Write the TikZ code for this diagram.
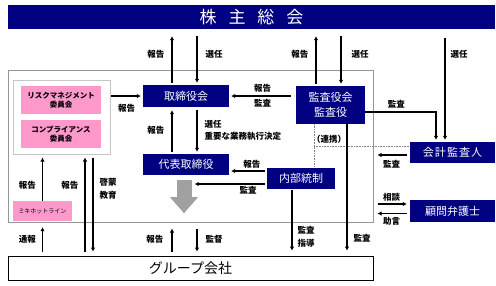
\documentclass[tikz,border=0pt]{standalone}
\usepackage{fontspec}
\setmainfont{Noto Sans CJK JP}
\usetikzlibrary{arrows.meta,calc}
\definecolor{navyBg}{RGB}{0,0,128}
\definecolor{pinkBg}{RGB}{255,153,204}
\definecolor{frameGray}{RGB}{150,150,150}
\definecolor{flowGray}{RGB}{160,160,160}

\begin{document}
\begin{tikzpicture}[
  x=1pt, y=-1pt,
  navy/.style={fill=navyBg, text=white, inner sep=0pt, font=\fontsize{11}{13}\selectfont},
  pinkbox/.style={fill=pinkBg, inner sep=0pt, align=center, font=\fontsize{7.5}{9.5}\selectfont\bfseries},
  lbl/.style={font=\fontsize{8.5}{12.5}\selectfont\bfseries, inner sep=1pt, align=left},
  arrow/.style={-{Latex[length=4pt,width=4.5pt]}, line width=1.3pt},
  dotline/.style={densely dotted, draw=gray, line width=0.6pt}
]
\useasboundingbox (0,0) rectangle (496,285);

% ------------------------------------------------------------------
% Frames
% ------------------------------------------------------------------
\node[navy, minimum width=487pt, minimum height=24pt, font=\fontsize{17}{19}\selectfont] (banner) at (251.5,17)
  {株\hspace{0.7em}主\hspace{0.7em}総\hspace{0.7em}会};
\node[draw=frameGray, line width=1pt, fill=white, minimum width=365pt, minimum height=152pt] (frame) at (190.5,146) {};
\node[draw=gray!45, line width=1pt, fill=white, minimum width=97pt, minimum height=74pt] (inner) at (61.5,117) {};
\node[draw=black, line width=0.8pt, fill=white, minimum width=365pt, minimum height=24pt, font=\fontsize{14}{16}\selectfont] (group) at (190.5,268) {グループ会社};

% ------------------------------------------------------------------
% Boxes
% ------------------------------------------------------------------
\node[pinkbox, minimum width=80pt, minimum height=28pt] (risk) at (61,100) {リスクマネジメント\\委員会};
\node[pinkbox, minimum width=80pt, minimum height=28pt] (comp) at (61,134) {コンプライアンス\\委員会};
\node[pinkbox, minimum width=59pt, minimum height=20pt, font=\fontsize{6}{7}\selectfont] (hotline) at (42.5,211) {ミキホットライン};

\node[navy, minimum width=86pt, minimum height=22pt] (board) at (186,96) {取締役会};
\node[navy, minimum width=86pt, minimum height=21pt] (ceo) at (186,164.5) {代表取締役};
\node[navy, minimum width=69pt, minimum height=38pt, align=center, font=\fontsize{11}{15}\selectfont] (audit) at (330.5,105) {監査役会\\監査役};
\node[navy, minimum width=68pt, minimum height=21pt] (ictrl) at (301,178) {内部統制};
\node[navy, minimum width=85pt, minimum height=21pt] (acct) at (452.5,152.5) {会\hspace{0.1em}計\hspace{0.1em}監\hspace{0.1em}査\hspace{0.1em}人};
\node[navy, minimum width=85pt, minimum height=22pt] (lawyer) at (452.5,211) {顧問弁護士};

% gray flow arrow
\node[fill=flowGray, inner sep=0pt, minimum width=15pt, minimum height=17pt] (shaft) at (184,188.5) {};
\fill[flowGray] ([xshift=-14pt]shaft.south) -- ([xshift=14pt]shaft.south) -- ([yshift=-16pt]shaft.south) -- cycle;

% ------------------------------------------------------------------
% Shareholders
% ------------------------------------------------------------------
\draw[arrow, shorten <=2pt, shorten >=7pt] ([xshift=-14pt]board.north) -- ([xshift=-14pt]board.north |- banner.south) node[lbl, pos=0.55, left=6pt] {報告};
\draw[arrow, shorten <=7pt, shorten >=2pt] ([xshift=11pt]board.north |- banner.south) -- ([xshift=11pt]board.north) node[lbl, pos=0.45, right=7pt] {選任};
\draw[arrow, shorten <=2pt, shorten >=7pt] ([xshift=-14.5pt]audit.north) -- ([xshift=-14.5pt]audit.north |- banner.south) node[lbl, pos=0.56, left=6pt] {報告};
\draw[arrow, shorten <=7pt, shorten >=2pt] ([xshift=10.5pt]audit.north |- banner.south) -- ([xshift=10.5pt]audit.north) node[lbl, pos=0.44, right=9pt] {選任};
\draw[arrow, shorten <=9pt, shorten >=2pt] ([xshift=-7.5pt]acct.north |- banner.south) -- ([xshift=-7.5pt]acct.north) node[lbl, pos=0.22, right=4pt] {選任};

% ------------------------------------------------------------------
% Board, CEO, auditors
% ------------------------------------------------------------------
\draw[arrow, shorten >=2pt] ([yshift=-7pt]audit.east) -| ([xshift=-16.5pt]acct.north) node[lbl, pos=0.22, above=2pt] {監査};
\draw[arrow, shorten >=2pt] (inner.east |- board.west) -- (board.west) node[lbl, midway, below=7pt] {報告};
\draw[arrow, shorten <=5pt, shorten >=2pt] (audit.west |- board.east) -- (board.east)
  node[lbl, midway, above=2pt] {報告} node[lbl, midway, below=2pt] {監査};
\draw[arrow, shorten <=2pt, shorten >=3pt] ([xshift=-14pt]ceo.north) -- ([xshift=-14pt]board.south) node[lbl, midway, left=6pt] {報告};
\draw[arrow, shorten <=3pt, shorten >=2pt] ([xshift=11pt]board.south) -- ([xshift=11pt]ceo.north) node[lbl, midway, right=6pt] {選任\\重要な業務執行決定};

\draw[arrow, shorten <=2pt, shorten >=2pt] ([yshift=7pt]ictrl.west) -- ([yshift=7pt]ictrl.west -| ceo.east) node[lbl, pos=0.4, above=1pt] {報告};
\draw[arrow, shorten <=2pt, shorten >=3pt] ([yshift=-6pt]ictrl.west) -- ([yshift=-6pt]ictrl.west -| shaft.east) node[lbl, pos=0.25, below=1pt] {監査};

% liaison
\coordinate (link) at ([yshift=6.5pt]acct.west);
\draw[dotline] ([xshift=-16.5pt]audit.south) -- ([xshift=-16.5pt]audit.south |- ictrl.north);
\draw[dotline] ([xshift=-16.5pt]audit.south |- link) -- (link);
\node[lbl] (linklbl) at (329,139) {（連携）};

\draw[arrow, shorten >=5pt] ([xshift=16.5pt]audit.south) -- ([xshift=16.5pt]audit.south |- group.north) node[lbl, pos=0.87, right=5pt] {監査};
\draw[arrow, shorten <=1pt, shorten >=5pt] ([xshift=-9pt]ictrl.south) -- ([xshift=-9pt]ictrl.south |- group.north) node[lbl, pos=0.72, right=4pt] {監査\\指導};

% ------------------------------------------------------------------
% Outside parties
% ------------------------------------------------------------------
\draw[arrow, shorten <=3pt, shorten >=4pt] ([yshift=-2.5pt]acct.west) -- ([yshift=-2.5pt]acct.west -| frame.east) node[lbl, midway, below=4pt] {監査};
\draw[arrow, shorten <=4pt, shorten >=3pt] ([yshift=7pt]lawyer.west -| frame.east) -- ([yshift=7pt]lawyer.west) node[lbl, midway, above=1pt] {相談};
\draw[arrow, shorten <=3pt, shorten >=4pt] ([yshift=-2.5pt]lawyer.west) -- ([yshift=-2.5pt]lawyer.west -| frame.east) node[lbl, midway, below=2pt] {助言};

% ------------------------------------------------------------------
% Committees and group companies
% ------------------------------------------------------------------
\draw[arrow, shorten >=3pt] (hotline.north) -- (hotline.north |- inner.south) node[lbl, pos=0.33, left=5pt] {報告};
\draw[arrow, shorten <=4pt, shorten >=3pt] ([xshift=23.5pt]inner.south |- group.north) -- ([xshift=23.5pt]inner.south) node[lbl, pos=0.7, left=5pt] {報告};
\draw[arrow, shorten <=3pt, shorten >=4pt] ([xshift=31.5pt]inner.south) -- ([xshift=31.5pt]inner.south |- group.north) node[lbl, pos=0.34, right=5pt] {啓蒙\\教育};
\draw[arrow, shorten <=4pt, shorten >=6pt] (hotline.south |- group.north) -- (hotline.south) node[lbl, pos=0.46, left=5pt] {通報};
\draw[arrow, shorten <=4pt, shorten >=6pt] ([xshift=-14pt]ceo.south |- group.north) -- ([xshift=-14pt]ceo.south |- frame.south) node[lbl, midway, left=7pt] {報告};
\draw[arrow, shorten <=6pt, shorten >=4pt] ([xshift=11pt]ceo.south |- frame.south) -- ([xshift=11pt]ceo.south |- group.north) node[lbl, midway, right=7pt] {監督};

\end{tikzpicture}
\end{document}
